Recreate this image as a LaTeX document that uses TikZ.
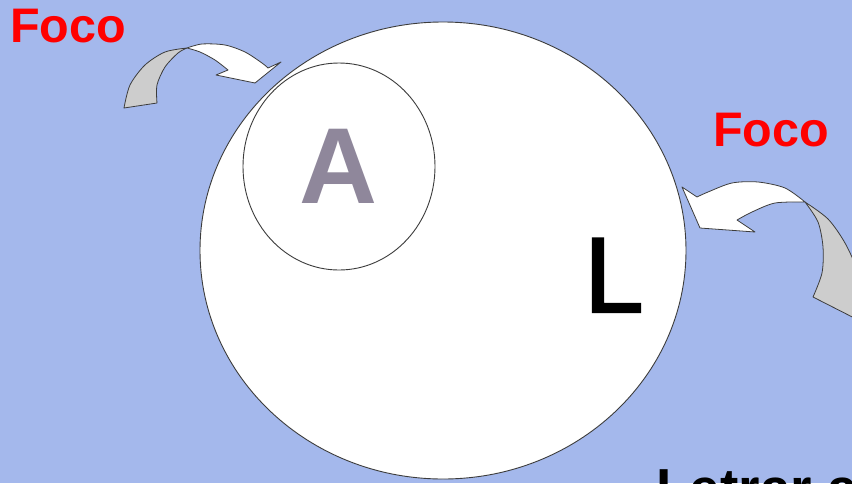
\documentclass[tikz,border=0pt]{standalone}
\usepackage{fontspec}
\setmainfont{Liberation Sans}
\newfontfamily\Lfont[FakeBold=2]{Liberation Sans}
\usetikzlibrary{shapes.geometric}
\definecolor{bgblue}{RGB}{164,184,236}
\definecolor{arrowgray}{RGB}{205,205,205}
\definecolor{lineg}{RGB}{60,60,60}
\definecolor{aletter}{RGB}{143,135,155}
\definecolor{focored}{RGB}{255,0,0}
\tikzset{
  setshape/.style={draw=lineg, line width=0.9pt, fill=white},
  ribbon/.style={draw=lineg, line width=0.8pt, line join=round},
  focolabel/.style={text=focored, font=\fontsize{48.5}{52}\selectfont\bfseries, inner sep=0pt, anchor=base west},
}
\begin{document}
\begin{tikzpicture}[x=1pt, y=-1pt]
\useasboundingbox (0,0) rectangle (852,483);
\clip (0,0) rectangle (852,483);
\fill[bgblue] (0,0) rectangle (852,483);

% sets
\node[setshape, ellipse, minimum width=486pt, minimum height=457pt, inner sep=0pt] (L) at (443,250.5) {};
\node[setshape, ellipse, minimum width=192pt, minimum height=207pt, inner sep=0pt] (A) at (339,166.5) {};

% letters
\node[inner sep=0pt, anchor=base, text=aletter, font=\fontsize{108}{110}\selectfont\bfseries] (Atext) at (338,203) {A};
\node[inner sep=0pt, anchor=base west, text=black, font=\Lfont\fontsize{107}{110}\selectfont] (Ltext) at (584,312) {L};

% labels
\node[focolabel] (foco1) at (10,42) {Foco};
\node[focolabel] (foco2) at (713,146) {Foco};
\node[inner sep=0pt, anchor=base west, text=black, font=\fontsize{55}{60}\selectfont\bfseries] (letrar) at (656,507) {Letrar a};

% left curved arrow: gray back
\draw[ribbon, fill=arrowgray] (187,48) -- plot[smooth] coordinates {(187,48) (165,52) (145,65) (130,85) (124,108)}
  -- (157,103) -- plot[smooth] coordinates {(157,103) (157,85) (165,67) (178,53) (187,48)} -- cycle;
% left curved arrow: white front
\draw[ribbon, fill=white] (187,48) -- plot[smooth] coordinates {(187,48) (202,44) (225,45) (245,52) (262,63) (268,68)}
  -- (281,62) -- (255,83) -- (216,75) -- (228,70)
  -- plot[smooth] coordinates {(228,70) (215,60) (200,52) (187,48)} -- cycle;

% right curved arrow: gray back
\draw[ribbon, fill=arrowgray] (805,202) -- plot[smooth] coordinates {(805,202) (828,219) (845,243) (858,272) (866,305) (868,330)}
  -- (868,325) -- (813,297) -- plot[smooth] coordinates {(813,297) (822,273) (823,247) (818,222) (805,202)} -- cycle;
% right curved arrow: white front
\draw[ribbon, fill=white] (805,202) -- plot[smooth] coordinates {(805,202) (785,188) (758,182) (732,183) (708,192) (697,197)}
  -- (682,187) -- (700,228) -- (755,232) -- (737,220)
  -- plot[smooth] coordinates {(737,220) (752,212) (775,203) (805,202)} -- cycle;
\end{tikzpicture}
\end{document}
